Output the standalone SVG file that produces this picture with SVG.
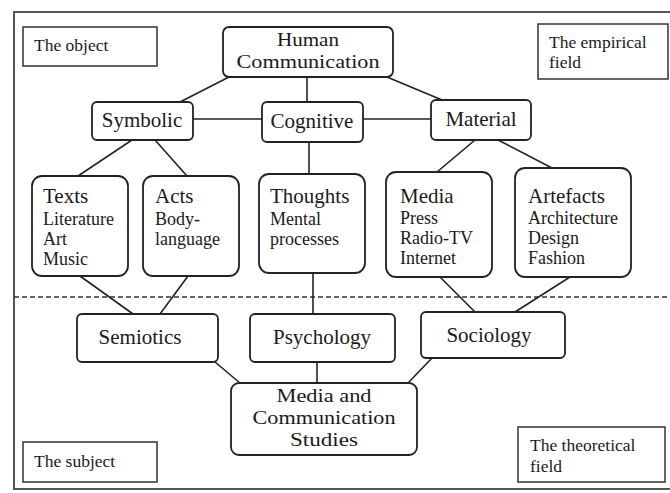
<svg xmlns="http://www.w3.org/2000/svg" width="670" height="493" viewBox="0 0 670 493">
<defs>
<style>
.box{fill:#fff;stroke:#222;stroke-width:1.8}
.lab{fill:#fff;stroke:#333;stroke-width:1.5}
.t{font-family:"Liberation Serif","Times New Roman",serif;fill:#1a1a1a}
.m{font-size:21px}
.m2{font-size:19.5px}
.s{font-size:18px}
.c{font-size:17.5px}
.mid{text-anchor:middle}
.con line{stroke:#222;stroke-width:1.6}
</style>
</defs>
<rect width="670" height="493" fill="#fff"/>
<path d="M672 12H14V489H672" fill="none" stroke="#555" stroke-width="2"/>
<line x1="14" y1="297" x2="670" y2="297" stroke="#333" stroke-width="1.5" stroke-dasharray="5,3"/>
<g class="con" id="connectors">
<line x1="229" y1="77" x2="180" y2="102"/>
<line x1="307" y1="77" x2="307" y2="102"/>
<line x1="387" y1="77" x2="442" y2="100"/>
<line x1="193" y1="119" x2="262" y2="119"/>
<line x1="363" y1="119" x2="431" y2="119"/>
<line x1="132" y1="140" x2="78" y2="176"/>
<line x1="155" y1="140" x2="187" y2="176"/>
<line x1="309" y1="142" x2="309" y2="174"/>
<line x1="475" y1="140" x2="437" y2="172"/>
<line x1="498" y1="140" x2="552" y2="168"/>
<line x1="80" y1="276" x2="133" y2="314"/>
<line x1="188" y1="276" x2="160" y2="314"/>
<line x1="313" y1="273" x2="313" y2="314"/>
<line x1="440" y1="277" x2="475" y2="312"/>
<line x1="570" y1="277" x2="515" y2="312"/>
<line x1="215" y1="362" x2="240" y2="383"/>
<line x1="317" y1="362" x2="317" y2="383"/>
<line x1="432" y1="358" x2="408" y2="383"/>
</g>
<g id="object"><rect class="lab" x="23" y="27" width="134" height="39"/><text class="t c" x="34" y="51">The object</text></g>
<g id="empirical"><rect class="lab" x="538" y="24" width="130" height="55"/><text class="t c" x="549" y="48">The empirical</text><text class="t c" x="549" y="68">field</text></g>
<g id="subject"><rect class="lab" x="23" y="442" width="134" height="40"/><text class="t c" x="34" y="467">The subject</text></g>
<g id="theoretical"><rect class="lab" x="518" y="427" width="147" height="55"/><text class="t c" x="530" y="451">The theoretical</text><text class="t c" x="530" y="472">field</text></g>
<g id="human"><rect class="box" x="223" y="27" width="170" height="50" rx="6"/><text class="t m2 mid" x="308" y="46" textLength="62" lengthAdjust="spacingAndGlyphs">Human</text><text class="t m2 mid" x="308" y="68" textLength="143" lengthAdjust="spacingAndGlyphs">Communication</text></g>
<g id="symbolic"><rect class="box" x="92" y="102" width="101" height="38" rx="5"/><text class="t m mid" x="142" y="127">Symbolic</text></g>
<g id="cognitive"><rect class="box" x="262" y="102" width="101" height="40" rx="5"/><text class="t m mid" x="312" y="128">Cognitive</text></g>
<g id="material"><rect class="box" x="431" y="100" width="100" height="40" rx="5"/><text class="t m mid" x="481" y="126">Material</text></g>
<g id="texts"><rect class="box" x="32" y="176" width="96" height="100" rx="10"/><text class="t m" x="43" y="203">Texts</text><text class="t s" x="43" y="225">Literature</text><text class="t s" x="43" y="245">Art</text><text class="t s" x="43" y="265">Music</text></g>
<g id="acts"><rect class="box" x="143" y="176" width="96" height="100" rx="10"/><text class="t m" x="155" y="203">Acts</text><text class="t s" x="155" y="225">Body-</text><text class="t s" x="155" y="245">language</text></g>
<g id="thoughts"><rect class="box" x="259" y="174" width="106" height="99" rx="10"/><text class="t m" x="270" y="203">Thoughts</text><text class="t s" x="270" y="225">Mental</text><text class="t s" x="270" y="245">processes</text></g>
<g id="media"><rect class="box" x="386" y="172" width="106" height="105" rx="10"/><text class="t m" x="400" y="203">Media</text><text class="t s" x="400" y="224">Press</text><text class="t s" x="400" y="244">Radio-TV</text><text class="t s" x="400" y="264">Internet</text></g>
<g id="artefacts"><rect class="box" x="515" y="168" width="116" height="109" rx="10"/><text class="t m" x="528" y="203">Artefacts</text><text class="t s" x="528" y="224">Architecture</text><text class="t s" x="528" y="244">Design</text><text class="t s" x="528" y="264">Fashion</text></g>
<g id="semiotics"><rect class="box" x="77" y="314" width="141" height="48" rx="5"/><text class="t m mid" x="140" y="344">Semiotics</text></g>
<g id="psychology"><rect class="box" x="250" y="314" width="145" height="48" rx="5"/><text class="t m mid" x="322" y="344">Psychology</text></g>
<g id="sociology"><rect class="box" x="421" y="312" width="144" height="46" rx="5"/><text class="t m mid" x="489" y="342">Sociology</text></g>
<g id="mcs"><rect class="box" x="231" y="383" width="186" height="72" rx="8"/><text class="t m2 mid" x="324" y="402" textLength="95" lengthAdjust="spacingAndGlyphs">Media and</text><text class="t m2 mid" x="324" y="424" textLength="143" lengthAdjust="spacingAndGlyphs">Communication</text><text class="t m2 mid" x="324" y="446" textLength="68" lengthAdjust="spacingAndGlyphs">Studies</text></g>
</svg>
